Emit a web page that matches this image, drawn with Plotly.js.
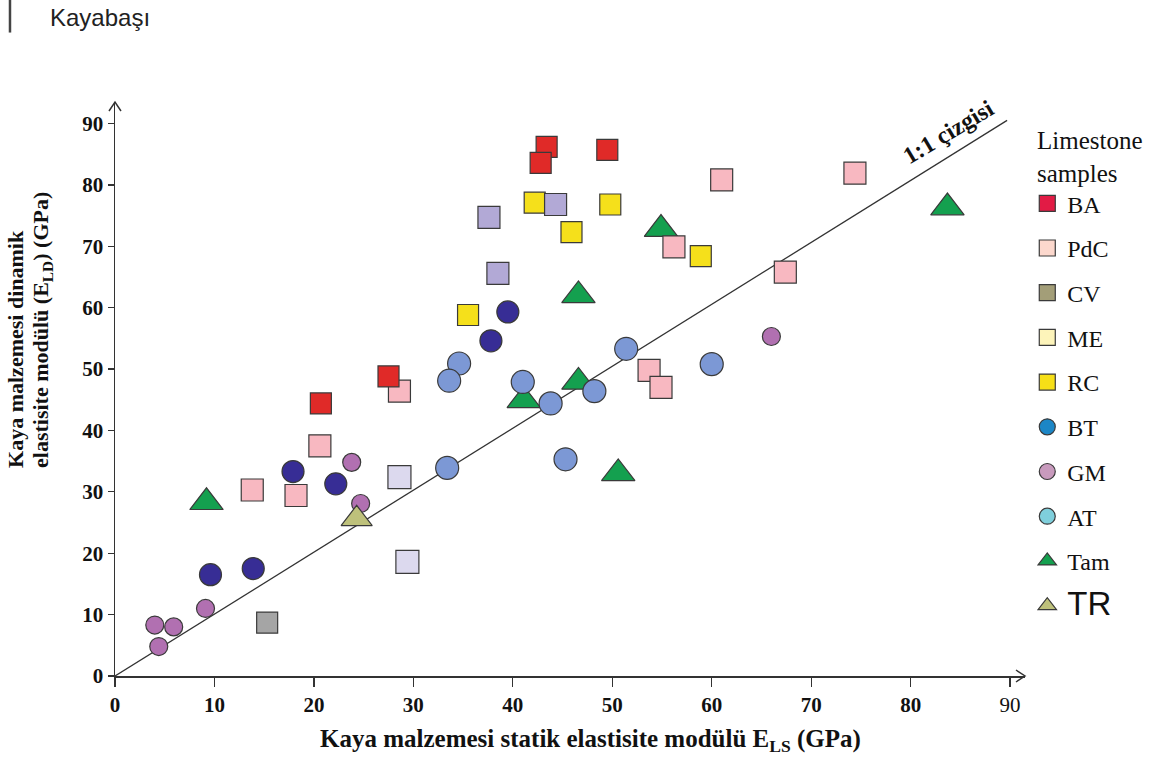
<!DOCTYPE html>
<html>
<head>
<meta charset="utf-8">
<script src="https://cdn.plot.ly/plotly-3.0.1.min.js"></script>
<style>html,body{margin:0;padding:0;background:#fff;}#chart{width:1150px;height:758px;}</style>
</head>
<body>
<div id="chart"></div>
<script>
// ---- data (GPa) ----
const baX = [43.4, 42.8, 49.5, 27.5, 20.7];
const baY = [86.2, 83.6, 85.7, 48.8, 44.4];
const pdcX = [61.0, 74.4, 56.2, 67.4, 53.7, 54.9, 28.6, 20.6, 13.8, 18.2];
const pdcY = [80.8, 81.9, 69.9, 65.8, 49.8, 47.0, 46.4, 37.5, 30.3, 29.4];
const cvX = [15.3];
const cvY = [8.7];
const rcX = [42.2, 49.8, 45.9, 35.5, 58.9];
const rcY = [77.1, 76.8, 72.3, 58.8, 68.4];
const meX = [44.3, 37.6, 38.5];
const meY = [76.8, 74.7, 65.6];
const me2X = [28.6, 29.4];
const me2Y = [32.4, 18.6];
const btX = [39.5, 37.8, 17.9, 22.2, 9.6, 13.9];
const btY = [59.3, 54.6, 33.3, 31.3, 16.5, 17.5];
const atX = [51.4, 34.6, 33.6, 41.0, 43.8, 48.2, 60.0, 33.4, 45.3];
const atY = [53.3, 50.9, 48.1, 47.9, 44.4, 46.4, 50.8, 33.9, 35.3];
const gmX = [23.8, 24.7, 9.1, 4.0, 5.9, 4.4, 66.0];
const gmY = [34.8, 28.1, 11.0, 8.3, 8.0, 4.8, 55.3];
const tamX = [83.7, 54.9, 46.6, 46.6, 41.1, 50.6, 9.2];
const tamY = [76.3, 72.8, 62.0, 47.9, 44.9, 33.0, 28.3];
const trX = [24.3];
const trY = [25.6];
const lineX = [0, 89.7];
const lineY = [0, 90.5];

const legendNames = ['BA', 'PdC', 'CV', 'ME', 'RC', 'BT', 'GM', 'AT', 'Tam',
  '<span style="font-family:\'Liberation Sans\',Arial;font-size:33px">TR</span>'];
const legendSymbols = ['square', 'square', 'square', 'square', 'square', 'circle', 'circle', 'circle', 'triangle-up', 'triangle-up'];
const legendColors = ['#e21b45', '#fcd8cd', '#a39e78', '#fdf4ba', '#f6df17', '#1c86c6', '#c89abd', '#7fcfdc', '#14a04f', '#bec17b'];

const tickVals = [0, 10, 20, 30, 40, 50, 60, 70, 80, 90];
const xTickText = ['<b>0</b>', '<b>10</b>', '<b>20</b>', '<b>30</b>', '<b>40</b>', '<b>50</b>', '<b>60</b>', '<b>70</b>', '<b>80</b>', '90'];
const yTickText = ['<b>0</b>', '<b>10</b>', '<b>20</b>', '<b>30</b>', '<b>40</b>', '<b>50</b>', '<b>60</b>', '<b>70</b>', '<b>80</b>', '<b>90</b>'];

const edge = {color: '#3a3a3a', width: 1.2};
function pts(x, y, symbol, color, size) {
  return {x: x, y: y, type: 'scatter', mode: 'markers', showlegend: false, hoverinfo: 'x+y',
    marker: {symbol: symbol, color: color, size: size, line: edge}};
}

const traces = [
  {x: lineX, y: lineY, type: 'scatter', mode: 'lines', showlegend: false, hoverinfo: 'skip',
    line: {color: '#333', width: 1.3}},
  pts(tamX, tamY, 'triangle-up', '#14a04f', 29),
  pts(pdcX, pdcY, 'square', '#f8b8c1', 22),
  pts(baX, baY, 'square', '#e02a28', 21),
  pts(rcX, rcY, 'square', '#f5e01b', 21),
  pts(meX, meY, 'square', '#b2a9d6', 22),
  pts(me2X, me2Y, 'square', '#dcd9ee', 23),
  pts(cvX, cvY, 'square', '#a5a5a5', 21),
  pts(gmX, gmY, 'circle', '#b170b1', 18),
  pts(trX, trY, 'triangle-up', '#bec17b', 27),
  pts(btX, btY, 'circle', '#372d95', 22),
  pts(atX, atY, 'circle', '#7c98d5', 23)
];

for (let i = 0; i < legendNames.length; i++) {
  traces.push({x: [null], y: [null], type: 'scatter', mode: 'markers', name: legendNames[i],
    legendgroup: 'g' + i, showlegend: true,
    marker: {symbol: legendSymbols[i], color: legendColors[i], size: 16, line: edge}});
}

const serif = 'Liberation Serif, Times New Roman, serif';

const layout = {
  width: 1150, height: 758,
  margin: {l: 115, r: 125, t: 102, b: 82},
  paper_bgcolor: '#fff', plot_bgcolor: '#fff',
  font: {family: serif, color: '#111'},
  xaxis: {range: [0, 91.5], tickvals: tickVals, ticktext: xTickText, showgrid: false, zeroline: false,
    showline: true, linecolor: '#333', linewidth: 1.5, ticks: 'outside', ticklen: 9, tickwidth: 1.3,
    tickcolor: '#333', tickfont: {family: serif, size: 21, color: '#111'}, fixedrange: true},
  yaxis: {range: [0, 93.5], tickvals: tickVals, ticktext: yTickText, showgrid: false, zeroline: false,
    showline: true, linecolor: '#333', linewidth: 1.5, ticks: 'outside', ticklen: 6, tickwidth: 1.3,
    tickcolor: '#333', tickfont: {family: serif, size: 21, color: '#111'}, fixedrange: true},
  showlegend: true,
  legend: {x: 1.0025, xanchor: 'left', y: 0.862, yanchor: 'top', tracegroupgap: 10.5,
    font: {family: serif, size: 24, color: '#111'}, bgcolor: 'rgba(0,0,0,0)'},
  annotations: [
    {xref: 'paper', yref: 'paper', x: -0.0736, y: 1.148, xanchor: 'left', yanchor: 'middle', showarrow: false,
      text: 'Kayabaşı', font: {family: 'Liberation Sans, Arial, sans-serif', size: 24, color: '#222'}},
    {xref: 'paper', yref: 'paper', x: 1.011, y: 0.904, xanchor: 'left', yanchor: 'middle', align: 'left', showarrow: false,
      text: 'Limestone<br>samples', font: {family: serif, size: 25, color: '#111'}},
    {xref: 'paper', yref: 'paper', x: -0.1088, y: 0.359, xanchor: 'center', yanchor: 'bottom', showarrow: false,
      textangle: -90, text: '<b>Kaya malzemesi dinamik</b>',
      font: {family: serif, size: 22, color: '#111'}},
    {xref: 'paper', yref: 'paper', x: -0.0802, y: 0.359, xanchor: 'center', yanchor: 'bottom', showarrow: false,
      textangle: -90, text: '<b>elastisite modülü (E<sub>LD</sub>) (GPa)</b>',
      font: {family: serif, size: 22, color: '#111'}},
    {xref: 'paper', yref: 'paper', x: 0.522, y: -0.1115, xanchor: 'center', yanchor: 'middle', showarrow: false,
      text: '<b>Kaya malzemesi statik elastisite modülü E<sub>LS</sub> (GPa)</b>',
      font: {family: serif, size: 25, color: '#111'}},
    {xref: 'x', yref: 'y', x: 83.8, y: 88.6, showarrow: false, textangle: -31,
      text: '<b>1:1 çizgisi</b>', font: {family: serif, size: 24, color: '#111'}}
  ],
  shapes: [
    {type: 'line', xref: 'paper', yref: 'paper', x0: -0.1154, x1: -0.1154, y0: 1.178, y1: 1.121,
      line: {color: '#444', width: 2.5}},
    {type: 'path', xref: 'paper', yref: 'paper', xsizemode: 'pixel', ysizemode: 'pixel', xanchor: 0, yanchor: 1,
      path: 'M-6,-9 L0,0 L6,-9', line: {color: '#333', width: 1.5}},
    {type: 'path', xref: 'paper', yref: 'paper', xsizemode: 'pixel', ysizemode: 'pixel', xanchor: 1, yanchor: 0,
      path: 'M-9,6 L0,0 L-9,-6', line: {color: '#333', width: 1.5}}
  ]
};

Plotly.newPlot('chart', traces, layout, {staticPlot: true, displayModeBar: false});
</script>
</body>
</html>
